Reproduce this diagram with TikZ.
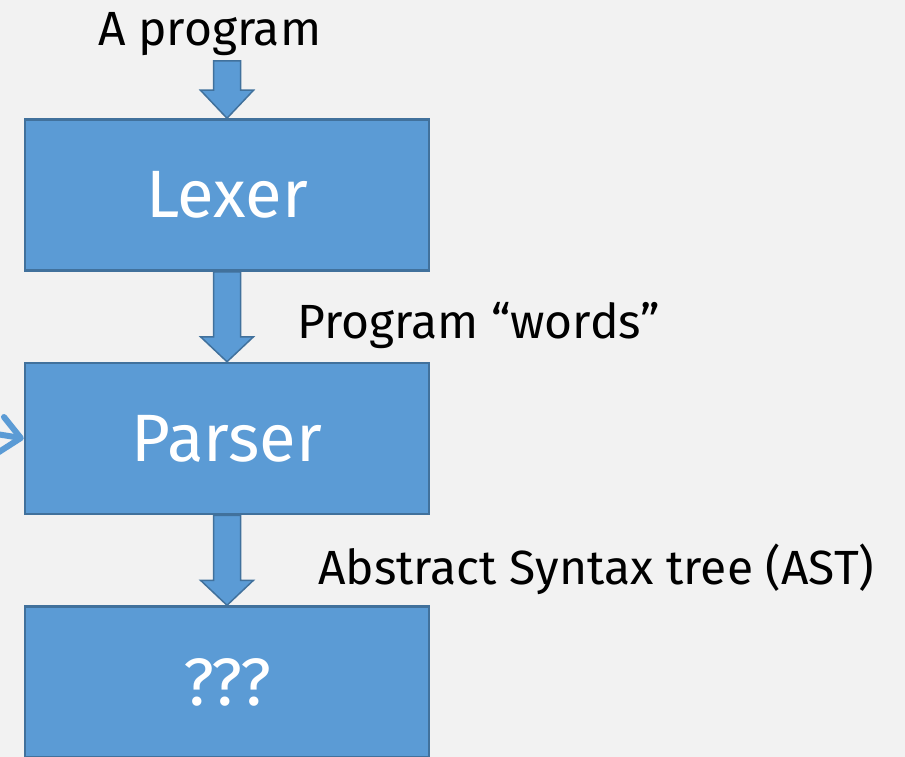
\documentclass[tikz,border=0pt]{standalone}
\usepackage{fontspec}
\setmainfont{Fira Sans}
\usetikzlibrary{calc,arrows.meta}
\definecolor{bg}{HTML}{F2F2F2}
\definecolor{boxfill}{HTML}{5B9BD5}
\definecolor{boxline}{HTML}{41719C}
\tikzset{
  stage/.style={draw=boxline, fill=boxfill, line width=2.5pt,
    minimum width=404pt, minimum height=151pt, inner sep=0pt,
    text=white, font=\fontsize{67}{80}\selectfont},
  label/.style={anchor=base west, inner sep=0pt, text=black,
    font=\fontsize{48}{58}\selectfont},
  blockarrow/.style={draw=boxline, fill=boxfill, line width=1.5pt, line join=miter,
    to path={let \p1=(\tikztostart), \p2=(\tikztotarget) in
      (\x1-13.5pt,\y1) -- (\x1+13.5pt,\y1) -- (\x1+13.5pt,\y2+#1)
      -- (\x1+26.5pt,\y2+#1) -- (\x1,\y2) -- (\x1-26.5pt,\y2+#1)
      -- (\x1-13.5pt,\y2+#1) -- cycle}},
  feed/.style={draw=boxfill, line width=6pt, line cap=round,
    -{Straight Barb[length=20pt, width=36pt, line width=6pt, round]}}
}
\begin{document}
\begin{tikzpicture}[x=1pt, y=-1pt]
  % canvas
  \fill[bg] (0,0) rectangle (905,757);
  \useasboundingbox (0,0) rectangle (905,757);

  % pipeline stages
  \node[stage] (lexer)  at (227,195)   {Lexer};
  \node[stage] (parser) at (227,438.5) {Parser};
  \node[stage] (next)   at (227,682)   {???};

  % labels
  \node[label] (prog)  at (98,46)   {A program};
  \node[label] (words) at (297,338) {Program “words”};
  \node[label] (ast)   at (318,584) {Abstract Syntax tree (AST)};

  % block arrows between stages
  \coordinate (in) at (227,61);
  \path[blockarrow=28pt] (in) to (lexer.north);
  \path[blockarrow=25pt] (lexer.south) to (parser.north);
  \path[blockarrow=25pt] (parser.south) to (next.north);

  % incoming connector from the left
  \coordinate (src) at (-40,428);
  \draw[feed] (src) -- (parser.west);
\end{tikzpicture}
\end{document}
